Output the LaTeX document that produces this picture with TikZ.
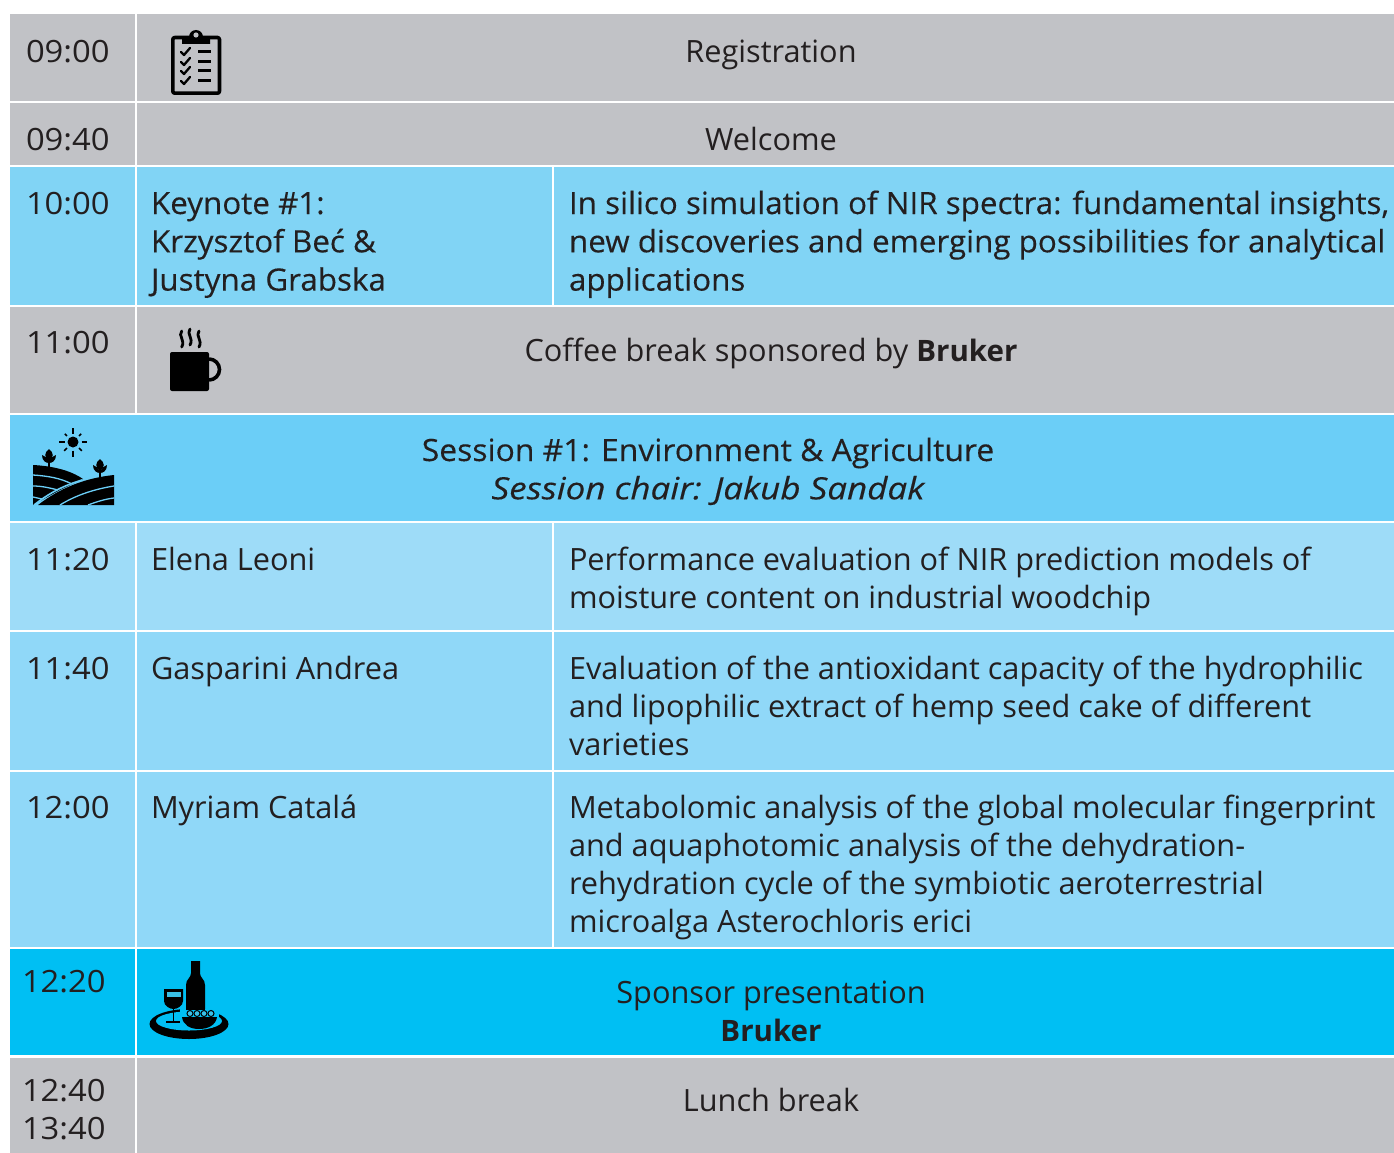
\documentclass[tikz,border=0pt]{standalone}
\usepackage{fontspec}
\setmainfont{Open Sans}
\definecolor{ink}{HTML}{231F20}
\definecolor{greyc}{HTML}{C1C2C6}
\definecolor{keyc}{HTML}{81D4F5}
\definecolor{sessc}{HTML}{6BCEF7}
\definecolor{lighta}{HTML}{9EDCF8}
\definecolor{lightb}{HTML}{90D8F8}
\definecolor{spons}{HTML}{00BFF3}
\newcommand{\fl}{\rule{0pt}{24pt}}
\newcommand{\brk}{{\fontsize{29.5}{38.3}\selectfont\bfseries Bruker}}
\tikzset{
  x=1pt,y=-1pt,
  txt/.style={inner sep=0pt,outer sep=0pt,text=ink,font=\fontsize{30.7}{38.3}\selectfont},
  tl/.style={txt,anchor=north west,align=left},
  tc/.style={txt,anchor=north,align=center},
  timec/.style={tl,font=\fontsize{30.7}{38.3}\selectfont\addfontfeatures{FakeStretch=1.067}},
  keyt/.style={tl,font=\fontsize{30.7}{38.3}\selectfont\addfontfeatures{FakeBold=0.25,FakeStretch=1.022}},
  sest/.style={tc,font=\fontsize{30.7}{38.3}\selectfont\addfontfeatures{FakeBold=0.25}},
  icon/.style={fill=black,draw=none},
  iconline/.style={draw=black,fill=none,line cap=round,line join=round},
}
\begin{document}
\begin{tikzpicture}
\useasboundingbox (0,0) rectangle (1394,1153);
\fill[white] (0,0) rectangle (1394,1153);
% cells
\fill[greyc] (10,14) rectangle (135,101);
\fill[greyc] (137,14) rectangle (1394,101);
\fill[greyc] (10,103) rectangle (135,165);
\fill[greyc] (137,103) rectangle (1394,165);
\fill[keyc] (10,167) rectangle (135,305);
\fill[keyc] (137,167) rectangle (552,305);
\fill[keyc] (554,167) rectangle (1394,305);
\fill[greyc] (10,307) rectangle (135,413);
\fill[greyc] (137,307) rectangle (1394,413);
\fill[sessc] (10,415) rectangle (1394,521);
\fill[lighta] (10,523) rectangle (135,630);
\fill[lighta] (137,523) rectangle (552,630);
\fill[lighta] (554,523) rectangle (1394,630);
\fill[lightb] (10,632) rectangle (135,770);
\fill[lightb] (137,632) rectangle (552,770);
\fill[lightb] (554,632) rectangle (1394,770);
\fill[lightb] (10,772) rectangle (135,947);
\fill[lightb] (137,772) rectangle (552,947);
\fill[lightb] (554,772) rectangle (1394,947);
\fill[spons] (10,949) rectangle (135,1055);
\fill[spons] (137,949) rectangle (1394,1055);
\fill[greyc] (10,1058) rectangle (135,1153);
\fill[greyc] (137,1058) rectangle (1394,1153);
% times
\node[timec] (t1) at (26,39) {\fl 09:00};
\node[timec] (t2) at (26,126) {\fl 09:40};
\node[timec] (t3) at (26,190) {\fl 10:00};
\node[timec] (t4) at (26,329) {\fl 11:00};
\node[timec] (t5) at (26,546) {\fl 11:20};
\node[timec] (t6) at (26,655) {\fl 11:40};
\node[timec] (t7) at (26,794) {\fl 12:00};
\node[timec] (t8) at (22,968) {\fl 12:20};
\node[timec] (t9) at (22,1077) {\fl 12:40\\13:40};
% full-width rows
\node[tc] (reg) at (771,39) {\fl Registration};
\node[tc] (wel) at (771,126) {\fl Welcome};
\node[tc] (cof) at (771,337) {\fl Coffee break sponsored by \brk};
\node[sest] (ses) at (708,437) {\fl {\addfontfeatures{FakeStretch=1.038}Session \#1: Environment \& Agriculture}\\{\addfontfeatures{FakeStretch=1.14}\itshape Session chair: Jakub Sandak}};
\node[tc] (spo) at (771,979) {\fl Sponsor presentation\\\brk};
\node[tc] (lun) at (771,1087) {\fl Lunch break};
% speakers
\node[keyt] (s1) at (151,190) {\fl Keynote \#1:\\Krzysztof Beć \&\\Justyna Grabska};
\node[tl] (s2) at (151,546) {\fl Elena Leoni};
\node[tl] (s3) at (151,655) {\fl Gasparini Andrea};
\node[tl] (s4) at (151,794) {\fl Myriam Catalá};
% titles
\node[keyt] (a1) at (569,190) {\fl In silico simulation of NIR spectra: fundamental insights,\\new discoveries and emerging possibilities for analytical\\applications};
\node[tl] (a2) at (569,546) {\fl Performance evaluation of NIR prediction models of\\moisture content on industrial woodchip};
\node[tl] (a3) at (569,655) {\fl Evaluation of the antioxidant capacity of the hydrophilic\\and lipophilic extract of hemp seed cake of different\\varieties};
\node[tl] (a4) at (569,794) {\fl Metabolomic analysis of the global molecular fingerprint\\and aquaphotomic analysis of the dehydration-\\rehydration cycle of the symbiotic aeroterrestrial\\microalga Asterochloris erici};
% clipboard icon
\draw[iconline,line width=3.6pt,rounded corners=2pt] (172.8,37.5) rectangle (219.5,93.2);
\fill[icon] (182,37) -- (189,37) arc (180:360:7) -- (210,37) -- (210,44) -- (182,44) -- cycle;
\fill[greyc] (196,35) circle (2.6);
\foreach \yy in {52,62,71,81}{
  \draw[iconline,line width=2.3pt] (181,\yy) -- (184,\yy+3) -- (190,\yy-4);
  \draw[draw=black,line width=3pt] (198,\yy) -- (211,\yy);
}
% mug icon
\fill[icon,rounded corners=2pt] (170,352) -- (209,352) -- (209,391) -- (170,391) -- cycle;
\draw[draw=black,fill=none,line width=3.6pt] (209,359) arc (-90:90:10.5);
\foreach \xx/\dy in {181.7/2,190/0,199/2}{
  \draw[iconline,line width=2.8pt] (\xx,329+\dy) .. controls (\xx-4,334+\dy) and (\xx+4,338+\dy) .. (\xx,345+\dy);
}
% landscape icon
\fill[icon] (73,442) circle (5.5);
\foreach \a/\l in {0/12,90/13,180/13,270/13,45/11,135/11,225/10,315/10}{
  \draw[draw=black,line width=1.6pt] (73,442) ++(\a:8.5) -- ++(\a:\l-7);
}
\fill[icon] (33,465) .. controls (52,466) and (70,470) .. (83,479) -- (60,490) -- (33,505) -- cycle;
\fill[icon] (38,505) .. controls (60,488) and (85,478) .. (114,475) -- (114,505) -- cycle;
\draw[draw=sessc,line width=1.3pt,fill=none] (33,475) .. controls (48,476) and (60,478) .. (72,484);
\draw[draw=sessc,line width=1.3pt,fill=none] (33,486) .. controls (42,486) and (50,488) .. (58,490);
\draw[draw=sessc,line width=1.3pt,fill=none] (33,497) -- (42,499);
\draw[draw=sessc,line width=1.6pt,fill=none] (34,505) .. controls (48,494) and (62,486) .. (82,480);
\draw[draw=sessc,line width=1.3pt,fill=none] (60,505) .. controls (76,495) and (95,489) .. (114,486);
\draw[draw=sessc,line width=1.3pt,fill=none] (88,505) .. controls (96,502) and (105,499) .. (114,498);
\draw[draw=black,line width=1.6pt] (49,458) -- (49,467);
\fill[icon] (49,449) .. controls (54,453) and (54,457) .. (49,461) .. controls (44,457) and (44,453) .. (49,449);
\fill[icon] (42,455) .. controls (45,456) and (47,458) .. (49,460) .. controls (51,458) and (53,456) .. (56,455) .. controls (56,461) and (52,463) .. (49,463) .. controls (46,463) and (42,461) .. (42,455) -- cycle;
\draw[draw=black,line width=1.6pt] (100,468) -- (100,478);
\fill[icon] (100,459) .. controls (105,463) and (105,467) .. (100,471) .. controls (95,467) and (95,463) .. (100,459);
\fill[icon] (93,465) .. controls (96,466) and (98,468) .. (100,471) .. controls (102,468) and (104,466) .. (107,465) .. controls (107,471) and (103,473) .. (100,473) .. controls (97,473) and (93,471) .. (93,465) -- cycle;
% tray icon
\fill[icon] (189,1024) ellipse (39.5 and 15);
\fill[spons] (189,1021) ellipse (33 and 9.5);
\fill[icon] (191,961) -- (200,961) -- (200,973) .. controls (200,978) and (205,979) .. (205,985) -- (205,1020) -- (186,1020) -- (186,985) .. controls (186,979) and (191,978) .. (191,973) -- cycle;
\fill[icon] (164,989) -- (183,989) -- (183,1001) .. controls (183,1006) and (177,1009) .. (173.5,1009) .. controls (170,1009) and (164,1006) .. (164,1001) -- cycle;
\fill[spons!70!greyc] (166.5,991.5) rectangle (180.5,996.5);
\draw[draw=black,line width=1.8pt] (173.5,1009) -- (173.5,1022);
\draw[draw=black,line width=1.8pt] (166,1022) -- (180,1022);
\fill[spons] (180,1009) rectangle (219,1020);
\fill[icon] (182,1017) -- (217,1017) .. controls (216,1025) and (208,1029) .. (199,1029) .. controls (190,1029) and (183,1025) .. (182,1017) -- cycle;
\foreach \xx in {190,197,204,211}{
  \draw[draw=black,fill=spons!70!greyc,line width=1pt] (\xx,1013.5) circle (3);
}
\fill[icon] (186,1005) rectangle (205,1010);
\end{tikzpicture}
\end{document}
